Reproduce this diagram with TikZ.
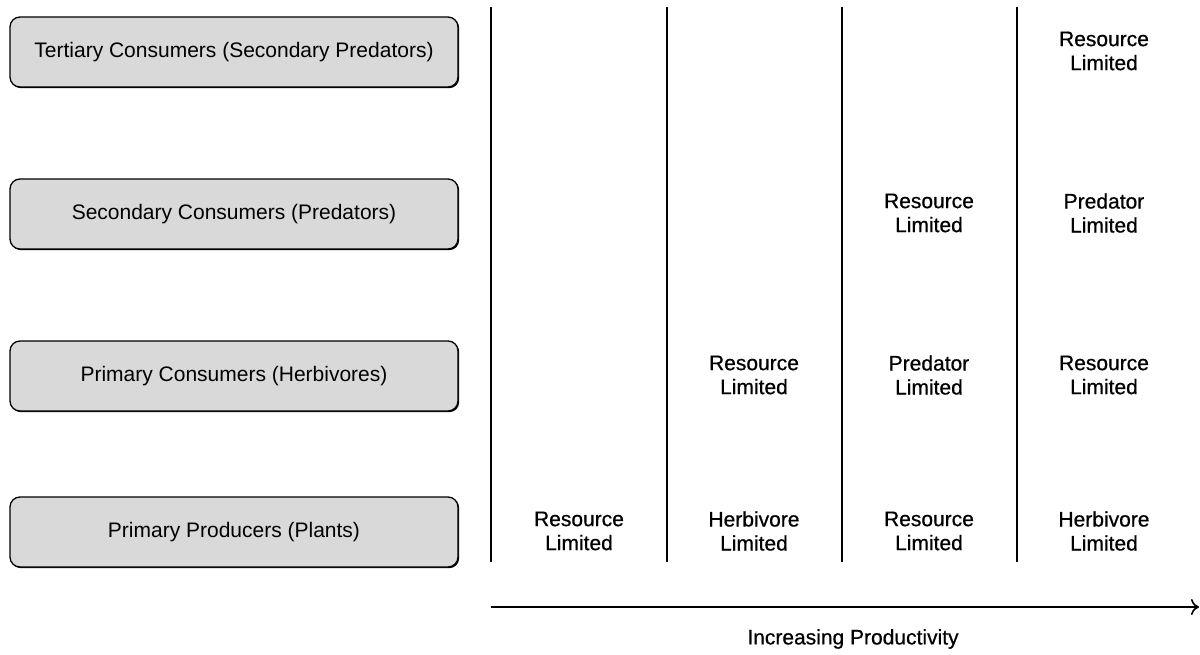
\documentclass[tikz,border=0pt]{standalone}
\usepackage{fontspec}
\setmainfont{Liberation Sans}
\newfontfamily\heavyfont{Liberation Sans}[FakeBold=0.6]
\usetikzlibrary{arrows.meta,shadows}
\definecolor{boxgray}{HTML}{D9D9D9}
\begin{document}
\begin{tikzpicture}[x=1pt,y=-1pt,
  level/.style={draw=black,line width=1.3pt,fill=boxgray,rounded corners=10pt,
    minimum width=448pt,minimum height=70pt,inner sep=0pt,
    font=\fontsize{21}{24}\selectfont,
    drop shadow={shadow xshift=1.2pt,shadow yshift=-1.2pt,fill=black,opacity=1}},
  lim/.style={align=center,inner sep=0pt,font=\heavyfont\fontsize{21}{24}\selectfont},
  divider/.style={line width=2pt},
  axis/.style={line width=2.6pt,-{To[length=8pt,width=16pt,line width=1.6pt]}}]
\useasboundingbox (0,0) rectangle (1200,655);
\node[level] (t) at (234,52) {Tertiary Consumers (Secondary Predators)};
\node[level] (s) at (234,214) {Secondary Consumers (Predators)};
\node[level] (p) at (234,376) {Primary Consumers (Herbivores)};
\node[level] (pp) at (234,532) {Primary Producers (Plants)};
% dividers
\foreach \i/\x in {1/491,2/667,3/842,4/1017}{
  \coordinate (d\i t) at (\x,7);
  \coordinate (d\i b) at (\x,562);
  \draw[divider] (d\i t) -- (d\i b);
}
% labels
\node[lim] (c1r4) at (579,531) {Resource\\Limited};
\node[lim] (c2r3) at (754,375) {Resource\\Limited};
\node[lim] (c2r4) at (754,531) {Herbivore\\Limited};
\node[lim] (c3r2) at (929,213) {Resource\\Limited};
\node[lim] (c3r3) at (929,375) {Predator\\Limited};
\node[lim] (c3r4) at (929,531) {Resource\\Limited};
\node[lim] (c4r1) at (1104,51) {Resource\\Limited};
\node[lim] (c4r2) at (1104,213) {Predator\\Limited};
\node[lim] (c4r3) at (1104,375) {Resource\\Limited};
\node[lim] (c4r4) at (1104,531) {Herbivore\\Limited};
% axis
\coordinate (a0) at (491,607);
\coordinate (a1) at (1199,607);
\draw[axis] (a0) -- (a1);
\node[lim] (axl) at (853,639) {Increasing Productivity};
\end{tikzpicture}
\end{document}
